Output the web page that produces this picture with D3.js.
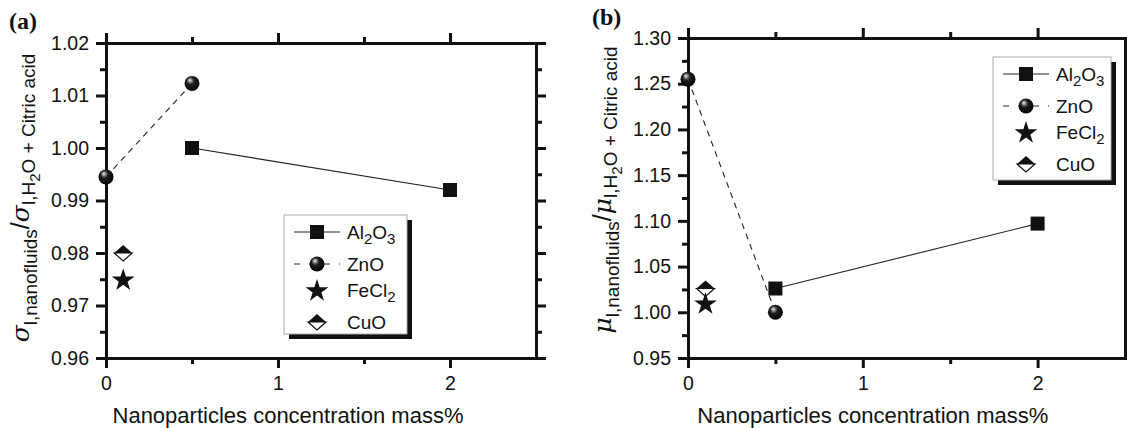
<!DOCTYPE html>
<html>
<head>
<meta charset="utf-8">
<script src="https://cdn.jsdelivr.net/npm/d3@7"></script>
<style>
  body { margin: 0; background: #fff; }
  svg { font-family: "Liberation Sans", Arial, sans-serif; }
</style>
</head>
<body>
<div id="chart"></div>
<script>
// x values (mass %)
const al2o3X = [0.5, 2];
const znoX = [0, 0.5];
const fecl2X = [0.1];
const cuoX = [0.1];

// panel (a): surface tension ratio
const al2o3SigmaY = [1.000, 0.992];
const znoSigmaY = [0.9945, 1.0123];
const fecl2SigmaY = [0.975];
const cuoSigmaY = [0.980];

// panel (b): viscosity ratio
const al2o3MuY = [1.026, 1.097];
const znoMuY = [1.255, 1.000];
const fecl2MuY = [1.010];
const cuoMuY = [1.026];

const xTicks = [0, 1, 2];
const xMinorTicks = [0.5, 1.5];
const sigmaTicks = [0.96, 0.97, 0.98, 0.99, 1.00, 1.01, 1.02];
const sigmaMinor = [0.965, 0.975, 0.985, 0.995, 1.005, 1.015];
const muTicks = [0.95, 1.00, 1.05, 1.10, 1.15, 1.20, 1.25, 1.30];
const muMinor = [0.975, 1.025, 1.075, 1.125, 1.175, 1.225, 1.275];

const svg = d3.select("#chart").append("svg").attr("width", 1127).attr("height", 428);

const defs = svg.append("defs");
const grad = defs.append("radialGradient").attr("id", "ball")
  .attr("cx", "45%").attr("cy", "40%").attr("r", "60%").attr("fx", "35%").attr("fy", "28%");
grad.append("stop").attr("offset", "0%").attr("stop-color", "#fafafa");
grad.append("stop").attr("offset", "15%").attr("stop-color", "#a0a0a0");
grad.append("stop").attr("offset", "42%").attr("stop-color", "#1e1e1e");
grad.append("stop").attr("offset", "100%").attr("stop-color", "#000");

// marker drawers
function square(g, x, y) {
  g.append("rect").attr("x", x - 7).attr("y", y - 7).attr("width", 14).attr("height", 14).attr("fill", "#111");
}
function ball(g, x, y) {
  g.append("circle").attr("cx", x).attr("cy", y).attr("r", 7.5).attr("fill", "url(#ball)");
}
function star(g, x, y) {
  g.append("path").attr("d", d3.symbol(d3.symbolStar, 160)()).attr("transform", `translate(${x},${y + 1})`).attr("fill", "#111");
}
function diamond(g, x, y) {
  const w = 9, h = 8;
  g.append("path").attr("d", `M${x - w},${y}L${x},${y + h}L${x + w},${y}Z`).attr("fill", "#fff").attr("stroke", "#111").attr("stroke-width", 1.2);
  g.append("path").attr("d", `M${x - w},${y}L${x},${y - h}L${x + w},${y}Z`).attr("fill", "#111");
}

function drawPanel(p) {
  const g = svg.append("g");
  const x = d3.scaleLinear().domain([0, 2.5]).range([p.left, p.right]);
  const y = d3.scaleLinear().domain(p.yDomain).range([p.bottom, p.top]);

  const styleAxis = a => {
    a.select(".domain").attr("stroke", "#111").attr("stroke-width", 3);
    a.selectAll(".tick line").attr("stroke", "#111").attr("stroke-width", 3);
    a.selectAll("text").attr("fill", "#111").style("font-size", "19.5px");
  };
  const major = 10, minor = 6;
  // bottom
  g.append("g").attr("transform", `translate(0,${p.bottom})`)
    .call(d3.axisBottom(x).tickValues(xTicks).tickFormat(d3.format("d")).tickSize(major).tickPadding(8).tickSizeOuter(0))
    .call(styleAxis);
  g.append("g").attr("transform", `translate(0,${p.bottom})`)
    .call(d3.axisBottom(x).tickValues(xMinorTicks).tickFormat("").tickSize(minor).tickSizeOuter(0)).call(styleAxis);
  // top
  g.append("g").attr("transform", `translate(0,${p.top})`)
    .call(d3.axisTop(x).tickValues(xTicks).tickFormat("").tickSize(major).tickSizeOuter(0)).call(styleAxis);
  g.append("g").attr("transform", `translate(0,${p.top})`)
    .call(d3.axisTop(x).tickValues(xMinorTicks).tickFormat("").tickSize(minor).tickSizeOuter(0)).call(styleAxis);
  // left
  g.append("g").attr("transform", `translate(${p.left},0)`)
    .call(d3.axisLeft(y).tickValues(p.yTicks).tickFormat(d3.format(".2f")).tickSize(major).tickPadding(7).tickSizeOuter(0))
    .call(styleAxis);
  g.append("g").attr("transform", `translate(${p.left},0)`)
    .call(d3.axisLeft(y).tickValues(p.yMinor).tickFormat("").tickSize(minor).tickSizeOuter(0)).call(styleAxis);
  // right
  g.append("g").attr("transform", `translate(${p.right},0)`)
    .call(d3.axisRight(y).tickValues(p.yTicks).tickFormat("").tickSize(major).tickSizeOuter(0)).call(styleAxis);
  g.append("g").attr("transform", `translate(${p.right},0)`)
    .call(d3.axisRight(y).tickValues(p.yMinor).tickFormat("").tickSize(minor).tickSizeOuter(0)).call(styleAxis);

  const line = d3.line().x(d => x(d[0])).y(d => y(d[1]));
  g.append("path").datum(d3.zip(al2o3X, p.al2o3Y)).attr("d", line)
    .attr("fill", "none").attr("stroke", "#222").attr("stroke-width", 1.1);
  g.append("path").datum(d3.zip(znoX, p.znoY)).attr("d", line)
    .attr("fill", "none").attr("stroke", "#222").attr("stroke-width", 1.1).attr("stroke-dasharray", "6,5");

  al2o3X.forEach((v, i) => square(g, x(v), y(p.al2o3Y[i])));
  znoX.forEach((v, i) => ball(g, x(v), y(p.znoY[i])));
  cuoX.forEach((v, i) => diamond(g, x(v), y(p.cuoY[i])));
  fecl2X.forEach((v, i) => star(g, x(v), y(p.fecl2Y[i])));

  // axis titles
  g.append("text").attr("x", x(1) + 10).attr("y", 423).attr("text-anchor", "middle")
    .style("font-size", "22px").attr("fill", "#111").text("Nanoparticles concentration mass%");

  const yl = g.append("text").attr("transform", `translate(${p.left - 77},${p.labelMidY}) rotate(-90)`)
    .attr("text-anchor", "middle").attr("fill", "#111").style("font-size", "25px");
  yl.append("tspan").style("font-style", "italic").style("font-family", "'DejaVu Serif', serif").text(p.sym);
  yl.append("tspan").attr("dy", 8).style("font-size", "19px").text("l,nanofluids");
  yl.append("tspan").attr("dy", -8).text("/");
  yl.append("tspan").style("font-style", "italic").style("font-family", "'DejaVu Serif', serif").text(p.sym);
  yl.append("tspan").attr("dy", 6).style("font-size", "19px").text("l,H");
  yl.append("tspan").attr("dy", 5).style("font-size", "15px").text("2");
  yl.append("tspan").attr("dy", -5).style("font-size", "19px").text("O + Citric acid");

  // panel letter
  g.append("text").attr("x", p.letterX).attr("y", p.letterY).style("font-family", "'Liberation Serif', serif")
    .style("font-weight", "bold").style("font-size", "24px").attr("fill", "#111").text(p.letter);

  // legend
  const lg = g.append("g");
  lg.append("rect").attr("x", p.legX + 5).attr("y", p.legY + 5).attr("width", p.legW).attr("height", p.legH).attr("fill", "#111");
  lg.append("rect").attr("x", p.legX).attr("y", p.legY).attr("width", p.legW).attr("height", p.legH)
    .attr("fill", "#fff").attr("stroke", "#aaa").attr("stroke-width", 1);
  const cx = p.legX + 33, tx = p.legX + 63;
  const rows = [p.legY + 17, p.legY + 49, p.legY + 75, p.legY + 107];
  lg.append("line").attr("x1", cx - 23).attr("x2", cx + 23).attr("y1", rows[0]).attr("y2", rows[0]).attr("stroke", "#222").attr("stroke-width", 1.2);
  lg.append("line").attr("x1", cx - 23).attr("x2", cx + 23).attr("y1", rows[1]).attr("y2", rows[1]).attr("stroke", "#222").attr("stroke-width", 1.2).attr("stroke-dasharray", "6,9");
  square(lg, cx, rows[0]);
  ball(lg, cx, rows[1]);
  star(lg, cx, rows[2]);
  diamond(lg, cx, rows[3]);
  const texts = [["Al", "2", "O", "3"], ["ZnO"], ["FeCl", "2"], ["CuO"]];
  texts.forEach((parts, i) => {
    const t = lg.append("text").attr("x", tx).attr("y", rows[i] + 7).style("font-size", "19px").attr("fill", "#111");
    parts.forEach((s, j) => {
      const isSub = j % 2 === 1;
      t.append("tspan").attr("dy", j === 0 ? 0 : (isSub ? 5 : -5)).style("font-size", isSub ? "15px" : "19px").text(s);
    });
  });
}

drawPanel({
  left: 106, right: 536, top: 43, bottom: 358,
  yDomain: [0.96, 1.02], yTicks: sigmaTicks, yMinor: sigmaMinor,
  al2o3Y: al2o3SigmaY, znoY: znoSigmaY, fecl2Y: fecl2SigmaY, cuoY: cuoSigmaY,
  sym: "σ", labelMidY: 198, letter: "(a)", letterX: 9, letterY: 29,
  legX: 284, legY: 215, legW: 123, legH: 119
});

drawPanel({
  left: 688, right: 1125, top: 38, bottom: 358,
  yDomain: [0.95, 1.30], yTicks: muTicks, yMinor: muMinor,
  al2o3Y: al2o3MuY, znoY: znoMuY, fecl2Y: fecl2MuY, cuoY: cuoMuY,
  sym: "μ", labelMidY: 190, letter: "(b)", letterX: 592, letterY: 25,
  legX: 993, legY: 57, legW: 118, legH: 123
});
</script>
</body>
</html>
